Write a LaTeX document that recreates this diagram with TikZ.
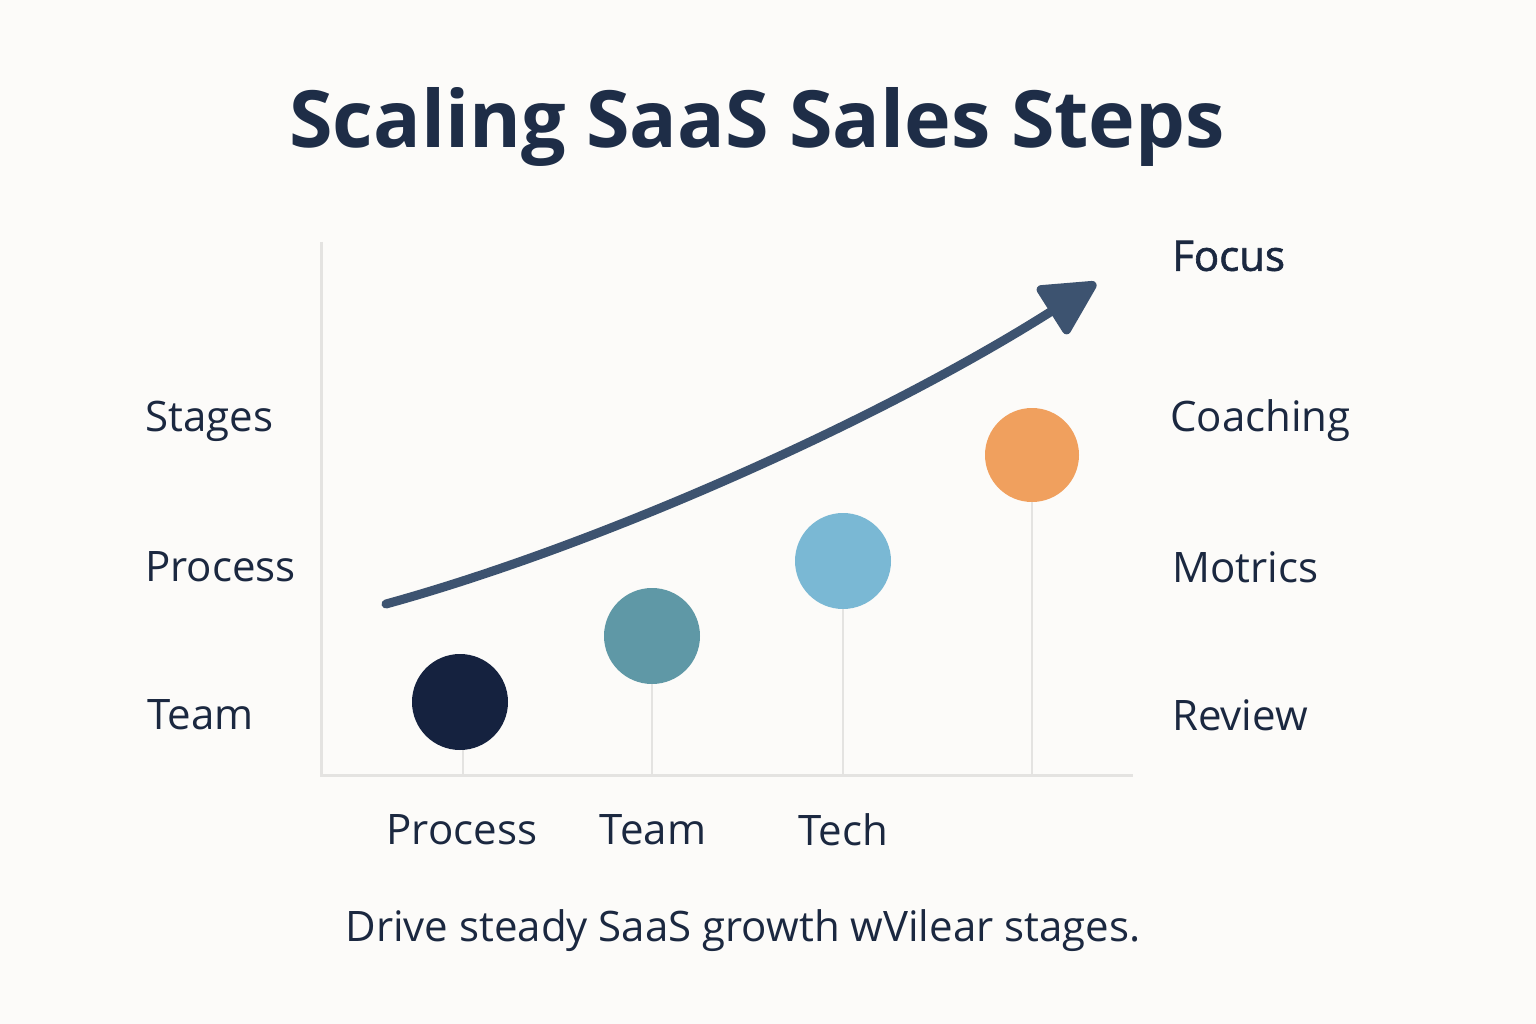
\documentclass[tikz,border=0pt]{standalone}
\usepackage{fontspec}
\setmainfont{Open Sans}
\newfontfamily\medfont[FakeBold=1.5]{Open Sans}
\usetikzlibrary{arrows.meta}
\definecolor{bg}{HTML}{FCFBF9}
\definecolor{ink}{HTML}{1B2840}
\definecolor{titleink}{HTML}{1E2D47}
\definecolor{axis}{HTML}{E4E3E1}
\definecolor{arrowc}{HTML}{3D5370}
\definecolor{cA}{HTML}{15223F}
\definecolor{cB}{HTML}{5F98A6}
\definecolor{cC}{HTML}{7AB8D4}
\definecolor{cD}{HTML}{F0A05E}
\tikzset{
  lbl/.style={font=\fontsize{42}{48}\selectfont, text=ink, inner sep=0pt},
  axisline/.style={draw=axis, line width=3pt},
  stem/.style={draw=axis, line width=2.5pt},
  dot/.style={circle, minimum size=96pt, inner sep=0pt},
}
\begin{document}
\begin{tikzpicture}[x=1pt,y=-1pt]
\useasboundingbox[fill=bg] (0,0) rectangle (1536,1024);
\node[font=\fontsize{79}{90}\selectfont\bfseries, text=titleink, inner sep=0pt] (title) at (757,127) {Scaling SaaS Sales Steps};
% axes
\coordinate (ytop) at (321,242);
\coordinate (orig) at (321,775);
\coordinate (xend) at (1133,775);
\draw[axisline] (ytop) -- (orig) -- (xend);
% dots
\node[dot, fill=cA] (d1) at (460,702) {};
\node[dot, fill=cB] (d2) at (652,636) {};
\node[dot, fill=cC] (d3) at (843,561) {};
\node[dot, fill=cD, minimum size=94pt] (d4) at (1032,455) {};
\coordinate (b1) at (463,775);
\coordinate (b2) at (652,775);
\coordinate (b3) at (843,775);
\coordinate (b4) at (1032,775);
\draw[stem] (d1.south -| b1) -- (b1);
\draw[stem] (d2.south) -- (b2);
\draw[stem] (d3.south) -- (b3);
\draw[stem] (d4.south) -- (b4);
% arrow
\coordinate (as) at (386,604);
\coordinate (ae) at (1096,283);
\draw[draw=arrowc, line width=9pt, line cap=round,
  -{Triangle[length=60pt,width=60pt,round]}] (as) .. controls (600,545) and (880,420) .. (ae);
% left labels
\node[lbl, anchor=west] (lstages) at (145,421) {Stages};
\node[lbl, anchor=west] (lprocess) at (145,567) {Process};
\node[lbl, anchor=west] (lteam) at (147,715) {Team};
% right labels
\node[lbl, anchor=west, font=\fontsize{42}{48}\medfont] (rfocus) at (1172,256) {Focus};
\node[lbl, anchor=west] (rcoach) at (1170,421) {Coaching};
\node[lbl, anchor=west] (rmot) at (1172,567) {Motrics};
\node[lbl, anchor=west] (rrev) at (1172,715) {Review};
% bottom labels
\node[lbl] (bprocess) at (462,830) {Process};
\node[lbl] (bteam) at (653,830) {Team};
\node[lbl] (btech) at (843,830) {Tech};
% caption
\node[lbl] (caption) at (743,931) {Drive steady SaaS growth wVilear stages.};
\end{tikzpicture}
\end{document}
